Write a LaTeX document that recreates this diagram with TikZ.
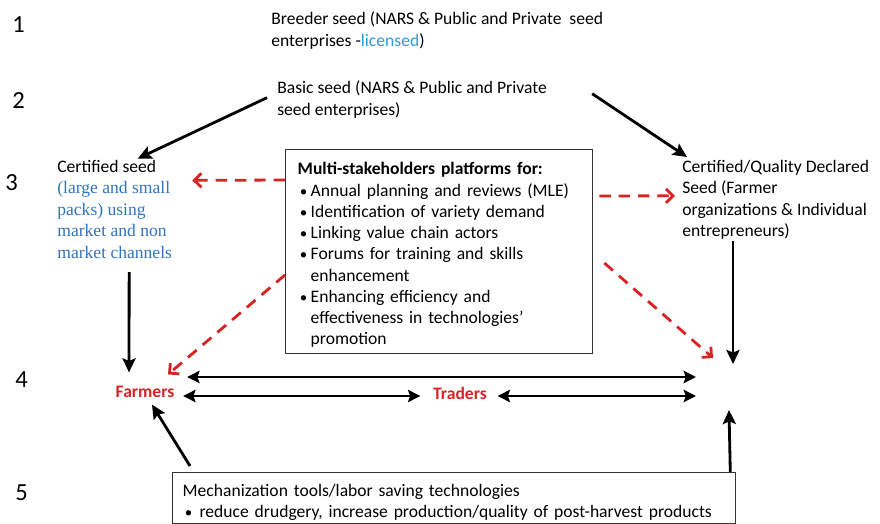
\documentclass[tikz,border=0pt]{standalone}
\usepackage{fontspec}
\setmainfont{Carlito}
\newfontfamily\seriffont{Liberation Serif}
\usetikzlibrary{arrows.meta,positioning}
\definecolor{licblue}{RGB}{45,155,215}
\definecolor{chanblue}{RGB}{50,115,190}
\definecolor{actred}{RGB}{215,35,35}
\newcommand\chan{\seriffont\color{chanblue}}
\newcommand\bul[1][7.4pt]{\makebox[#1][l]{\hspace{1.2pt}{\fontsize{8.5}{8.5}\selectfont\textbullet}}}

\begin{document}
\begin{tikzpicture}[
  x=0.02cm, y=-0.02cm,
  txt/.style={anchor=base west, align=left, inner sep=0pt, font=\fontsize{10}{12.3}\selectfont},
  level/.style={anchor=base west, inner sep=0pt, font=\fontsize{14}{16}\selectfont},
  actor/.style={inner sep=0pt, text=actred, font=\fontsize{10}{12}\selectfont\bfseries},
  box/.style={draw=black!80, line width=0.8pt, anchor=north west, align=left, font=\fontsize{10}{12.1}\selectfont},
  flow/.style={-{Stealth[length=8pt,width=7.5pt,inset=1.5pt]}, line width=1.6pt},
  trade/.style={{Stealth[length=7pt,width=7pt,inset=1.2pt]}-{Stealth[length=7pt,width=7pt,inset=1.2pt]}, line width=1.6pt},
  link/.style={-{Straight Barb[length=4pt,width=8pt]}, draw=actred, line width=1.6pt, dash pattern=on 6.5pt off 4.5pt}
]
\useasboundingbox (0,0) rectangle (880,524);

% Seed levels
\node[level] (l1) at (12,32) {1};
\node[level] (l2) at (12,108) {2};
\node[level] (l3) at (5,190) {3};
\node[level] (l4) at (15,387) {4};
\node[level] (l5) at (15,500) {5};

% Seed classes (anchored at the last line)
\node[txt] (breeder) at (271,46.5) {Breeder seed (NARS \& Public and Private~ seed\\enterprises -\textcolor{licblue}{licensed})};
\node[txt] (basic) at (277,115.5) {Basic seed (NARS \& Public and Private\\seed enterprises)};
\node[txt] (certL) at (57,258.6) {Certified seed\\{\chan (large and small}\\{\chan packs) using}\\{\chan market and non}\\{\chan market channels}};
\node[txt] (certR) at (682,236.9) {Certified/Quality Declared\\Seed (Farmer\\organizations \& Individual\\entrepreneurs)};

% Platforms and tools
\node[box, minimum width=6.14cm, minimum height=4.02cm, text width=5.66cm, inner xsep=0.24cm] (plat) at (285,149) {\rule{0pt}{11pt}\textbf{Multi-stakeholders platforms for:}\\
\bul Annual planning and reviews (MLE)\\
\bul Identification of variety demand\\
\bul Linking value chain actors\\
\bul Forums for training and skills\\
\hspace*{7.4pt}enhancement\\
\bul Enhancing efficiency and\\
\hspace*{7.4pt}effectiveness in technologies’\\
\hspace*{7.4pt}promotion};
\node[box, minimum width=11.26cm, minimum height=1.02cm, text width=10.86cm, inner xsep=0.2cm, inner ysep=0.8pt] (mech) at (172,472) {\rule{0pt}{12pt}Mechanization tools/labor saving technologies\\
\bul[9.6pt]reduce drudgery, increase production/quality of post-harvest products};

% Actors
\node[actor] (farm) at (145,392) {Farmers};
\node[actor] (trad) at (460,393) {Traders};
\coordinate (mkt) at (715,387);

% Seed flows
\draw[flow] ([shift={(-10,-2)}]basic.west) -- ([shift={(23,-1)}]certL.north);
\draw[flow] ([shift={(45,-6)}]basic.east) -- ([shift={(5,-2.5)}]certR.north west);
\draw[flow] ([shift={(14.5,13)}]certL.south) -- ([shift={(-16,-13.5)}]farm.north);
\draw[flow] ([shift={(51,1)}]certR.south west) -- ([shift={(18,-23)}]mkt);

% Platform links
\draw[link] ([shift={(0,31)}]plat.north west) -- ([shift={(20,-29)}]certL.east);
\draw[link] ([shift={(6,47)}]plat.north east) -- ([shift={(-7,-4)}]certR.west);
\draw[link] ([shift={(0,126)}]plat.north west) -- ([shift={(23,-11.5)}]farm.north);
\draw[link] ([shift={(11,114)}]plat.north east) -- ([shift={(-2,-29)}]mkt);

% Trade
\draw[trade] ([shift={(12.5,-15)}]farm.east) -- ([shift={(-19,-10)}]mkt);
\draw[trade] ([shift={(8.5,4)}]farm.east) -- ([shift={(-12.5,3)}]trad.west);
\draw[trade] ([shift={(10.5,3)}]trad.east) -- ([shift={(-19,9)}]mkt);

% Tools
\draw[flow] ([shift={(18,-6)}]mech.north west) -- ([shift={(7,6.5)}]farm.south);
\draw[flow] ([shift={(-6,0)}]mech.north east) -- ([shift={(14,23)}]mkt);
\end{tikzpicture}
\end{document}
